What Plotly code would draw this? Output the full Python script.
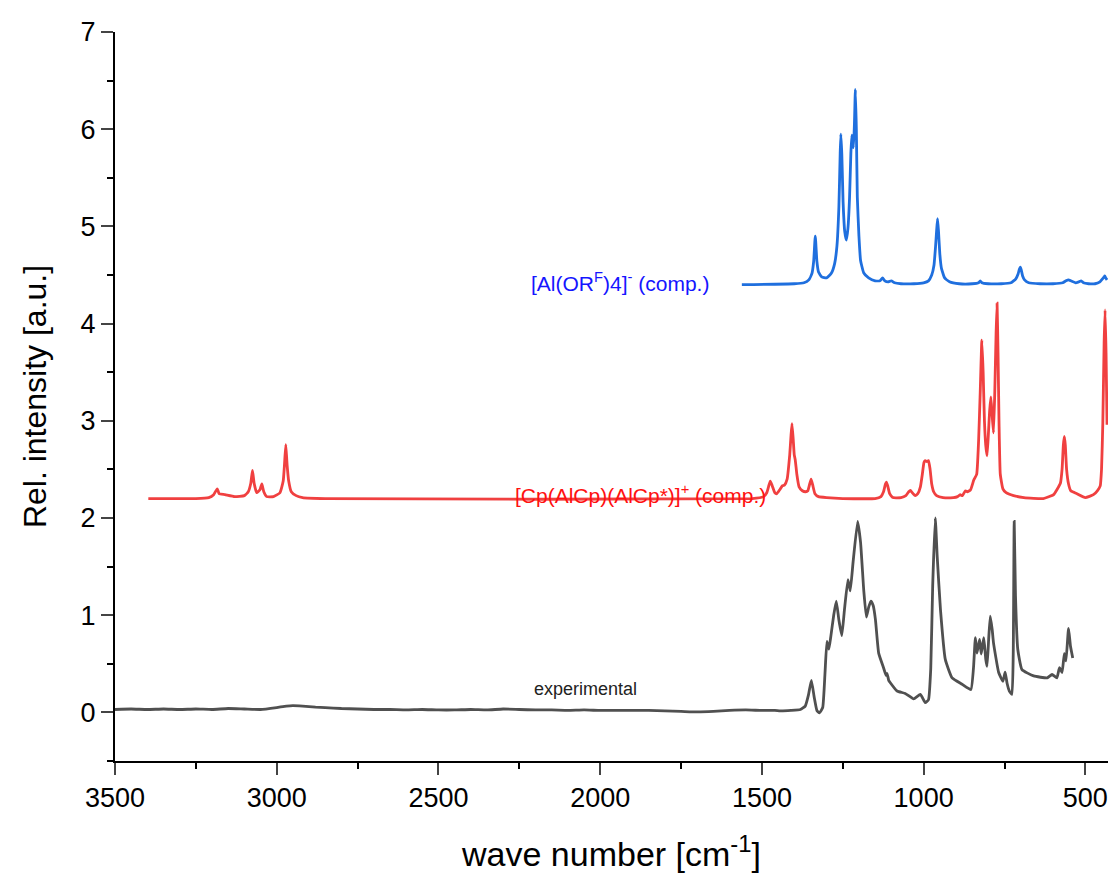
import plotly.graph_objects as go

# ---------------- data ----------------
# experimental spectrum
exp_x = [3500, 3450, 3400, 3350, 3300, 3250, 3200, 3150, 3100, 3050, 3000, 2970, 2950, 2920,
         2880, 2850, 2800, 2750, 2700, 2650, 2600, 2550, 2500, 2450, 2400, 2350, 2300, 2250,
         2200, 2150, 2100, 2050, 2000, 1950, 1900, 1850, 1800, 1750, 1700, 1650, 1600, 1550,
         1500, 1460, 1443, 1410, 1381, 1366, 1356, 1347, 1338, 1330, 1322, 1312, 1305, 1299,
         1293, 1287, 1278, 1270, 1262, 1253, 1245, 1234, 1227, 1218, 1204, 1195, 1185, 1177,
         1170, 1163, 1156, 1149, 1139, 1124, 1116, 1113, 1108, 1103, 1082, 1057, 1031, 1010,
         995, 985, 978, 972, 964, 958, 948, 933, 912, 881, 854, 846, 840, 835, 827, 822, 814,
         808, 804, 799, 794, 788, 784, 768, 755, 748, 742, 735, 727, 723, 720, 716, 709, 696,
         660, 618, 603, 588, 580, 572, 565, 560, 552, 546, 539]
exp_y = [0.03, 0.035, 0.03, 0.035, 0.03, 0.035, 0.03, 0.04, 0.035, 0.03, 0.05, 0.065, 0.07, 0.065,
         0.055, 0.05, 0.04, 0.035, 0.03, 0.03, 0.025, 0.03, 0.025, 0.025, 0.03, 0.025, 0.035, 0.03,
         0.025, 0.025, 0.02, 0.025, 0.02, 0.02, 0.02, 0.02, 0.015, 0.01, 0.005, 0.01, 0.02, 0.025,
         0.02, 0.02, 0.015, 0.02, 0.03, 0.065, 0.18, 0.33, 0.15, 0.02, -0.005, 0.05, 0.40, 0.73,
         0.65, 0.78, 1.0, 1.145, 0.95, 0.79, 1.05, 1.367, 1.25, 1.55, 1.966, 1.75, 1.25, 0.98,
         1.08, 1.145, 1.1, 0.955, 0.61, 0.46, 0.38, 0.40, 0.33, 0.305, 0.22, 0.195, 0.14, 0.185,
         0.10, 0.13, 0.45, 1.3, 2.0, 1.6, 1.06, 0.545, 0.355, 0.29, 0.235, 0.45, 0.77, 0.61, 0.75,
         0.60, 0.77, 0.55, 0.475, 0.75, 0.99, 0.85, 0.715, 0.41, 0.32, 0.415, 0.30, 0.22, 0.185,
         0.6, 1.966, 1.2, 0.65, 0.44, 0.375, 0.355, 0.39, 0.355, 0.46, 0.41, 0.605, 0.53, 0.863,
         0.68, 0.56]

# computed cation spectrum [Cp(AlCp)(AlCp*)]+
cat_x = [3397, 3250, 3210, 3195, 3184, 3178, 3160, 3130, 3100, 3088, 3080, 3075, 3070, 3062,
         3052, 3046, 3040, 3031, 3010, 2990, 2980, 2976, 2972, 2968, 2963, 2955, 2940, 2920,
         2850, 1530, 1495, 1485, 1478, 1474, 1468, 1460, 1454, 1445, 1437, 1430, 1422, 1414,
         1410, 1407, 1403, 1400, 1397, 1392, 1385, 1375, 1365, 1358, 1353, 1348, 1343, 1336,
         1325, 1300, 1250, 1150, 1132, 1124, 1118, 1115, 1111, 1105, 1095, 1070, 1055, 1046,
         1041, 1035, 1026, 1018, 1010, 1004, 999, 995, 990, 985, 980, 975, 969, 960, 940, 908,
         895, 887, 880, 871, 865, 855, 845, 836, 830, 825, 820, 816, 812, 808, 804, 800, 796,
         792, 788, 784, 780, 776, 773, 770, 767, 763, 755, 745, 722, 690, 630, 598, 588, 577,
         572, 568, 565, 562, 558, 552, 545, 526, 500, 475, 463, 454, 450, 446, 442, 439, 436, 433]
cat_y = [2.20, 2.20, 2.21, 2.24, 2.30, 2.25, 2.24, 2.22, 2.23, 2.27, 2.36, 2.49, 2.36, 2.26,
         2.29, 2.35, 2.27, 2.22, 2.22, 2.26, 2.38, 2.55, 2.755, 2.55, 2.38, 2.27, 2.23, 2.21,
         2.20, 2.20, 2.22, 2.26, 2.34, 2.38, 2.33, 2.26, 2.25, 2.29, 2.33, 2.34, 2.40, 2.65,
         2.85, 2.97, 2.80, 2.65, 2.60, 2.45, 2.32, 2.28, 2.27, 2.28, 2.34, 2.40, 2.34, 2.25,
         2.22, 2.21, 2.20, 2.20, 2.22, 2.27, 2.35, 2.37, 2.33, 2.25, 2.21, 2.21, 2.23, 2.27,
         2.285, 2.26, 2.23, 2.25, 2.32, 2.45, 2.57, 2.59, 2.58, 2.59, 2.50, 2.35, 2.27, 2.23, 2.21, 2.21,
         2.22, 2.24, 2.23, 2.28, 2.27, 2.29, 2.39, 2.45, 2.8, 3.3, 3.83, 3.5, 3.0, 2.75, 2.64, 2.85, 3.1,
         3.245, 3.05, 2.875, 3.3, 3.9, 4.21, 3.7, 3.0, 2.45, 2.30, 2.26, 2.23, 2.21, 2.20, 2.24, 2.29, 2.36,
         2.5, 2.75, 2.84, 2.75, 2.5, 2.35, 2.28, 2.25, 2.21, 2.24, 2.28, 2.33, 2.5, 2.98, 3.8, 4.14, 3.7, 2.96]

# computed anion spectrum [Al(OR^F)4]-
an_x = [1562, 1400, 1370, 1355, 1345, 1340, 1335, 1330, 1325, 1315, 1300, 1285, 1275, 1268,
        1262, 1258, 1256, 1253, 1249, 1244, 1239, 1234, 1229, 1225, 1222, 1219, 1217, 1214,
        1211, 1208, 1205, 1200, 1195, 1185, 1170, 1150, 1135, 1127, 1120, 1110, 1100, 1090,
        1070, 1030, 1000, 985, 975, 968, 963, 960, 957, 954, 950, 945, 935, 920, 890, 850,
        830, 825, 820, 800, 760, 730, 715, 708, 704, 701, 698, 694, 688, 675, 640, 600, 570,
        560, 552, 545, 530, 520, 513, 506, 490, 470, 455, 447, 442, 440, 437, 433]
an_y = [4.40, 4.41, 4.42, 4.45, 4.52, 4.64, 4.90, 4.64, 4.53, 4.48, 4.47, 4.52, 4.62, 4.80,
        5.2, 5.75, 5.95, 5.75, 5.25, 4.95, 4.86, 4.98, 5.3, 5.75, 5.94, 5.85, 5.81, 6.05,
        6.41, 6.0, 5.3, 4.9, 4.65, 4.52, 4.47, 4.44, 4.44, 4.47, 4.44, 4.43, 4.44, 4.42,
        4.41, 4.41, 4.42, 4.44, 4.5, 4.6, 4.8, 4.95, 5.08, 4.95, 4.72, 4.57, 4.47, 4.43, 4.41, 4.41,
        4.42, 4.44, 4.42, 4.41, 4.41, 4.42, 4.46, 4.51, 4.56, 4.58, 4.55, 4.49, 4.45, 4.42, 4.41, 4.41, 4.42,
        4.44, 4.45, 4.44, 4.42, 4.43, 4.44, 4.42, 4.41, 4.41, 4.43, 4.46, 4.48, 4.49, 4.47, 4.45]

x_ticks = [3500, 3000, 2500, 2000, 1500, 1000, 500]
y_ticks = [0, 1, 2, 3, 4, 5, 6, 7]

FONT = "Liberation Sans, Arial, sans-serif"

fig = go.Figure()
fig.add_trace(go.Scatter(x=exp_x, y=exp_y, mode="lines",
                         line=dict(color="#505050", width=2.8, shape="spline", smoothing=0.4),
                         showlegend=False))
fig.add_trace(go.Scatter(x=cat_x, y=cat_y, mode="lines",
                         line=dict(color="#f04040", width=2.8, shape="spline", smoothing=0.4),
                         showlegend=False))
fig.add_trace(go.Scatter(x=an_x, y=an_y, mode="lines",
                         line=dict(color="#1f6fde", width=2.8, shape="spline", smoothing=0.4),
                         showlegend=False))

fig.add_annotation(x=1876, y=2.25, text="[Cp(AlCp)(AlCp*)]<sup>+</sup> (comp.)",
                   showarrow=False, xanchor="center", yanchor="middle",
                   font=dict(family=FONT, size=21, color="#ff1010"))
fig.add_annotation(x=1938, y=4.43, text="[Al(OR<sup>F</sup>)4]<sup>-</sup> (comp.)",
                   showarrow=False, xanchor="center", yanchor="middle",
                   font=dict(family=FONT, size=21, color="#1515ff"))
fig.add_annotation(x=2046, y=0.245, text="experimental",
                   showarrow=False, xanchor="center", yanchor="middle",
                   font=dict(family=FONT, size=18, color="#222222"))

fig.update_layout(
    width=1116, height=879,
    margin=dict(l=115, r=8, t=32, b=118),
    paper_bgcolor="white", plot_bgcolor="white",
    font=dict(family=FONT, color="black"),
)
fig.update_xaxes(
    range=[3500, 430], tickvals=x_ticks, ticks="outside", ticklen=12, tickwidth=2,
    showline=True, linewidth=2, linecolor="black", showgrid=False, zeroline=False,
    tickfont=dict(size=27),
    minor=dict(dtick=250, tick0=0, ticks="outside", ticklen=6, tickwidth=2, tickcolor="black"),
    title=dict(text="wave number [cm<sup>-1</sup>]", font=dict(size=34), standoff=30),
)
fig.update_yaxes(
    range=[-0.5, 7], tickvals=y_ticks, ticks="outside", ticklen=12, tickwidth=2,
    showline=True, linewidth=2, linecolor="black", showgrid=False, zeroline=False,
    tickfont=dict(size=27),
    minor=dict(dtick=0.5, tick0=0, ticks="outside", ticklen=6, tickwidth=2, tickcolor="black"),
    title=dict(text="Rel. intensity [a.u.]",
               font=dict(size=32, family="Liberation Sans Narrow, Arial Narrow, Liberation Sans"),
               standoff=24),
)

fig.write_html("out.html")
